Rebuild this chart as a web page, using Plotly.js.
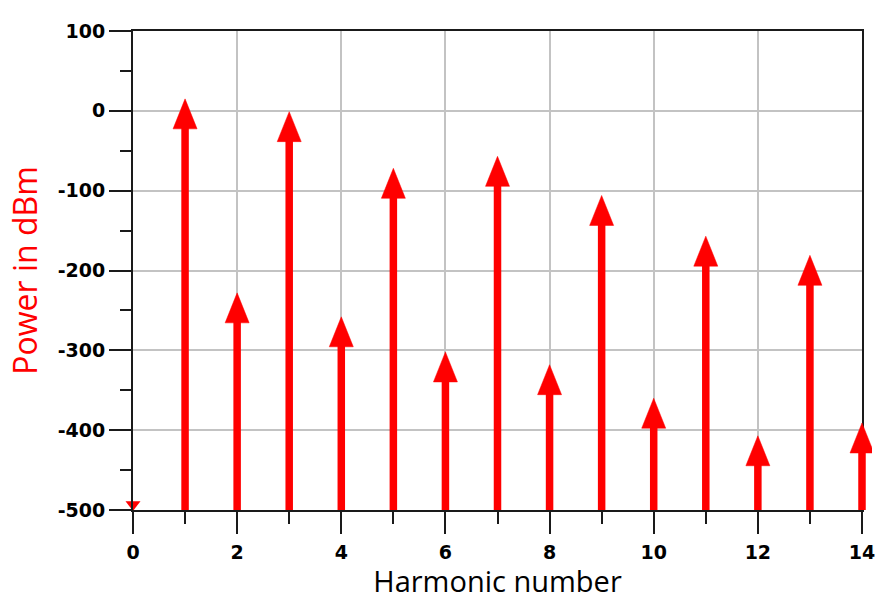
<!DOCTYPE html>
<html>
<head>
<meta charset="utf-8">
<script src="https://cdn.plot.ly/plotly-3.0.1.min.js"></script>
<style>
  html, body { margin: 0; padding: 0; background: #ffffff; }
  #chart { width: 876px; height: 600px; }
</style>
</head>
<body>
<div id="chart"></div>
<script>
// Harmonic spectrum: power of each harmonic line (dBm)
const harmonics = [1, 2, 3, 4, 5, 6, 7, 8, 9, 10, 11, 12, 13, 14];
const powerDbm = [15, -228, -1, -258, -72, -302, -57, -318, -106, -360, -157, -407, -181, -391];

// DC term sits at the bottom of the scale
const dcHarmonic = [0];
const dcPower = [-500];

// Axis ticks
const xTickVals = [0, 2, 4, 6, 8, 10, 12, 14];
const xTickText = ['0', '2', '4', '6', '8', '10', '12', '14'];
const yTickVals = [-500, -400, -300, -200, -100, 0, 100];
const yTickText = ['-500', '-400', '-300', '-200', '-100', '0', '100'];

const floorDbm = -500;
const xMax = 14;
const yMin = -500, yMax = 100;

// plot geometry (px)
const W = 876, H = 600;
const M = { l: 133, r: 4, t: 31, b: 90 };
const plotW = W - M.l - M.r;           // full width available to the overlay axis
const mainW = 729;                     // width of the framed plot area
const plotH = H - M.t - M.b;
const pxPerX = mainW / xMax;
const pxPerY = plotH / (yMax - yMin);

// arrow head size in px, converted to data units
const headHalfW = 12 / pxPerX;
const headLen = 30 / pxPerY;

const red = '#ff0000';
const axisCol = '#1a1a1a';
const gridCol = '#c3c3c3';

// stems
const stemX = [], stemY = [];
harmonics.forEach((h, i) => {
  stemX.push(h, h, null);
  stemY.push(floorDbm, powerDbm[i] - headLen + 2, null);
});

// arrow heads (filled triangles, tip at the value)
const headX = [], headY = [];
harmonics.forEach((h, i) => {
  const v = powerDbm[i];
  headX.push(h - headHalfW, h, h + headHalfW, h - headHalfW, null);
  headY.push(v - headLen, v, v - headLen, v - headLen, null);
});

const traces = [
  {
    type: 'scatter', mode: 'lines', x: stemX, y: stemY,
    line: { color: red, width: 7.5 }, hoverinfo: 'skip', showlegend: false,
    xaxis: 'x2', yaxis: 'y2'
  },
  {
    type: 'scatter', mode: 'lines', x: headX, y: headY,
    fill: 'toself', fillcolor: red, line: { color: red, width: 0.5 },
    hoverinfo: 'skip', showlegend: false,
    xaxis: 'x2', yaxis: 'y2'
  },
  {
    type: 'scatter', mode: 'markers', x: dcHarmonic, y: dcPower.map(v => v + 7),
    marker: { symbol: 'triangle-down', size: 13, color: red },
    cliponaxis: false, hoverinfo: 'skip', showlegend: false,
    xaxis: 'x', yaxis: 'y'
  }
];

const tickFont = { family: '"DejaVu Sans", sans-serif', size: 19, color: '#000000', weight: 'bold' };
const titleFamily = '"Open Sans", "Noto Sans", sans-serif';

const layout = {
  width: W, height: H,
  margin: M,
  paper_bgcolor: '#ffffff', plot_bgcolor: 'rgba(0,0,0,0)',
  showlegend: false,
  xaxis: {
    domain: [0, mainW / plotW],
    range: [0, xMax],
    tickvals: xTickVals, ticktext: xTickText,
    ticks: 'outside', ticklen: 22, tickwidth: 2, tickcolor: axisCol,
    minor: { ticks: 'outside', ticklen: 12, tickwidth: 2, tickcolor: axisCol, dtick: 1, showgrid: false },
    showgrid: true, gridcolor: gridCol, gridwidth: 2,
    showline: true, mirror: true, linecolor: axisCol, linewidth: 2,
    zeroline: false,
    tickfont: tickFont,
    ticklabelstandoff: 2,
    title: { text: 'Harmonic number', font: { family: titleFamily, size: 29, color: '#000000' }, standoff: 9 },
    fixedrange: true
  },
  yaxis: {
    range: [yMin, yMax],
    tickvals: yTickVals, ticktext: yTickText,
    ticks: 'outside', ticklen: 22, tickwidth: 2, tickcolor: axisCol,
    minor: { ticks: 'outside', ticklen: 11, tickwidth: 2, tickcolor: axisCol, dtick: 50, showgrid: false },
    showgrid: true, gridcolor: gridCol, gridwidth: 2,
    showline: true, mirror: true, linecolor: axisCol, linewidth: 2,
    zeroline: false,
    tickfont: tickFont,
    ticklabelstandoff: 0,
    title: { text: 'Power in dBm', font: { family: titleFamily, size: 32, color: red }, standoff: 10 },
    fixedrange: true
  },
  // overlay axes: same scale, wider clip so the last arrow is not cut
  xaxis2: {
    domain: [0, 1], range: [0, xMax * plotW / mainW], anchor: 'y2',
    visible: false, showgrid: false, zeroline: false, fixedrange: true
  },
  yaxis2: {
    domain: [0, 1], range: [yMin, yMax], anchor: 'x2',
    visible: false, showgrid: false, zeroline: false, fixedrange: true
  }
};

Plotly.newPlot('chart', traces, layout, { displayModeBar: false, staticPlot: true });
</script>
</body>
</html>
